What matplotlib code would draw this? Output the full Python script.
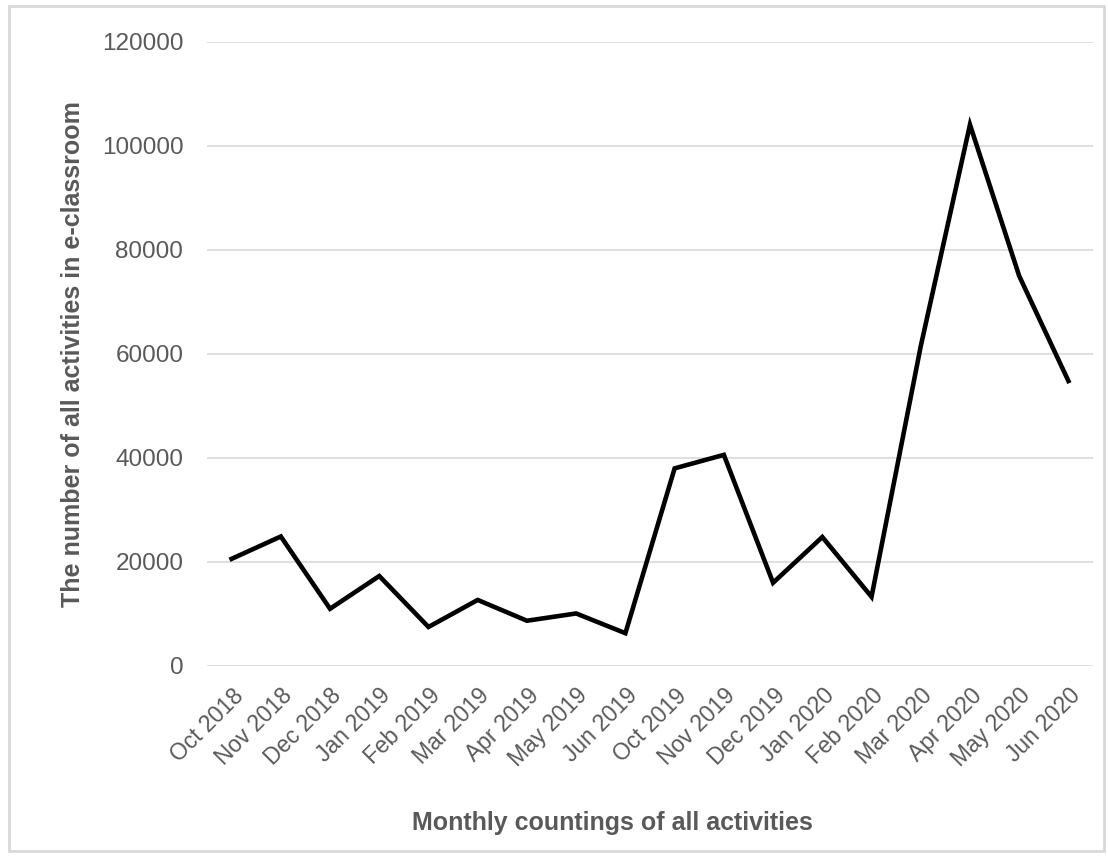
import matplotlib
matplotlib.use('Agg')
import matplotlib.pyplot as plt
from matplotlib.patches import Rectangle

months = ['Oct 2018', 'Nov 2018', 'Dec 2018', 'Jan 2019', 'Feb 2019', 'Mar 2019',
          'Apr 2019', 'May 2019', 'Jun 2019', 'Oct 2019', 'Nov 2019', 'Dec 2019',
          'Jan 2020', 'Feb 2020', 'Mar 2020', 'Apr 2020', 'May 2020', 'Jun 2020']
activities = [20600, 24900, 11000, 17300, 7500, 12700,
              8700, 10100, 6300, 38000, 40600, 16000,
              24800, 13300, 61500, 104100, 75000, 54800]
yticks = [0, 20000, 40000, 60000, 80000, 100000, 120000]

gray = '#595959'
fig = plt.figure(figsize=(11.08, 8.57), dpi=100)
ax = fig.add_axes([0.1868, 0.2229, 0.7997, 0.7281])

x = list(range(len(months)))
ax.plot(x, activities, color='black', lw=3.3, solid_joinstyle='miter')

ax.set_xlim(-0.5, len(months) - 0.5)
ax.set_ylim(0, 120000)
ax.set_yticks(yticks)
ax.set_yticklabels([str(v) for v in yticks], fontsize=17.5, color=gray, family='Liberation Sans')
ax.set_xticks(x)
ax.set_xticklabels(months, rotation=45, ha='right', rotation_mode='anchor',
                   fontsize=16.5, color=gray, family='Liberation Sans')
ax.tick_params(axis='both', length=0)
ax.tick_params(axis='y', pad=17)
ax.tick_params(axis='x', pad=13)
ax.grid(axis='y', color='#d9d9d9', lw=1.2)
ax.set_axisbelow(True)
for s in ax.spines.values():
    s.set_visible(False)

ax.set_ylabel('The number of all activities in e-classroom', fontsize=18, fontweight='bold',
              color=gray, family=['Liberation Sans Narrow', 'Liberation Sans'], labelpad=12)
fig.text(0.553, 0.04, 'Monthly countings of all activities', fontsize=18, fontweight='bold',
         color=gray, family=['Liberation Sans Narrow', 'Liberation Sans'], ha='center', va='center')

fig.patches.append(Rectangle((0.008, 0.007), 0.988, 0.986, transform=fig.transFigure,
                             fill=False, edgecolor='#d9d9d9', lw=2))

fig.savefig('out.png', dpi=100)
